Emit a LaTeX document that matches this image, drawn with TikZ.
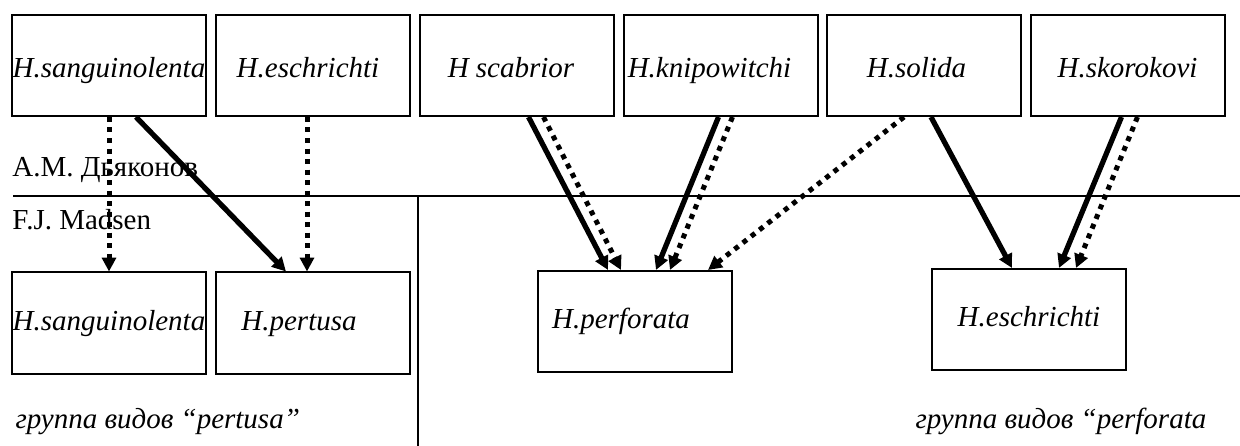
\documentclass[tikz,border=0pt]{standalone}
\usepackage{fontspec}
\setmainfont{Liberation Serif}
\usetikzlibrary{arrows.meta,calc}
\tikzset{
  sp/.style={draw, line width=0.8pt, minimum width=77.6pt, minimum height=40.4pt,
    inner sep=0pt, font=\fontsize{11.6}{14}\selectfont\itshape},
  up/.style={sp, text height=11pt, text depth=1.6pt},
  low/.style={sp, text height=8.4pt, text depth=2.6pt},
  % pulls the name a bit to the left inside its box
  pull/.style={execute at begin node={\hspace*{-#1}}},
  lbl/.style={anchor=base west, inner sep=0pt, font=\fontsize{11.6}{14}\selectfont},
  firm/.style={line width=2.1pt, -{Triangle[length=5.5pt,width=5.5pt]}},
  dots/.style={line width=2pt, dash pattern=on 2pt off 2.2pt, -{Triangle[length=5.5pt,width=5.5pt]}},
}
\begin{document}
\begin{tikzpicture}[x=0.4pt,y=-0.4pt]
  \useasboundingbox (0,0) rectangle (1240,446);
  % upper row
  \node[up]             (tsang) at (109,65.5)    {H.sanguinolenta};
  \node[up, pull=4pt]   (tesch) at (313,65.5)    {H.eschrichti};
  \node[up, pull=4.4pt] (tscab) at (516.5,65.5)  {H scabrior};
  \node[up, pull=8.8pt] (tknip) at (720.5,65.5)  {H.knipowitchi};
  \node[up, pull=6pt]   (tsol)  at (924,65.5)    {H.solida};
  \node[up]             (tskor) at (1127.5,65.5) {H.skorokovi};
  % lower row
  \node[low]              (bsang) at (109,323)    {H.sanguinolenta};
  \node[low, pull=11.2pt] (bpert) at (313,323)    {H.pertusa};
  \node[low, pull=11.2pt] (bperf) at (635,321.5)  {H.perforata};
  \node[low]              (besch) at (1029,319.5) {H.eschrichti};

  % separators
  \draw[line width=0.6pt] (13,196) -- (1240,196);
  \draw[line width=0.6pt] (418,196) -- (418,446);

  \node[lbl] (dyak) at (12,177) {А.М. Дьяконов};
  \node[lbl] (mads) at (12,230) {F.J. Madsen};
  \node[lbl, font=\fontsize{11.6}{14}\selectfont\itshape] (grpt) at (15,428)  {группа видов “pertusa”};
  \node[lbl, font=\fontsize{11.6}{14}\selectfont\itshape] (grpf) at (915,428) {группа видов “perforata};

  % arrows
  \draw[dots] (tsang.south) -- (bsang.north);
  \draw[firm] ($(tsang.south west)+(125,0)$) -- ($(bpert.north west)+(71,0)$);
  \draw[dots] ($(tesch.south)+(-6,0)$) -- ($(bpert.north)+(-6,0)$);
  \draw[firm] ($(tscab.south west)+(110,0)$) -- ($(bperf.north west)+(71,0)$);
  \draw[dots] ($(tscab.south west)+(125,0)$) -- ($(bperf.north west)+(84,0)$);
  \draw[firm] ($(tknip.south west)+(96,0)$) -- ($(bperf.north west)+(119,0)$);
  \draw[dots] ($(tknip.south west)+(110,0)$) -- ($(bperf.north west)+(133,0)$);
  \draw[dots] ($(tsol.south west)+(78,0)$) -- ($(bperf.north west)+(171,0)$);
  \draw[firm] ($(tsol.south west)+(105,0)$) -- ($(besch.north west)+(81,0)$);
  \draw[firm] ($(tskor.south west)+(92,0)$) -- ($(besch.north west)+(128,0)$);
  \draw[dots] ($(tskor.south west)+(108,0)$) -- ($(besch.north west)+(145,0)$);
\end{tikzpicture}
\end{document}
